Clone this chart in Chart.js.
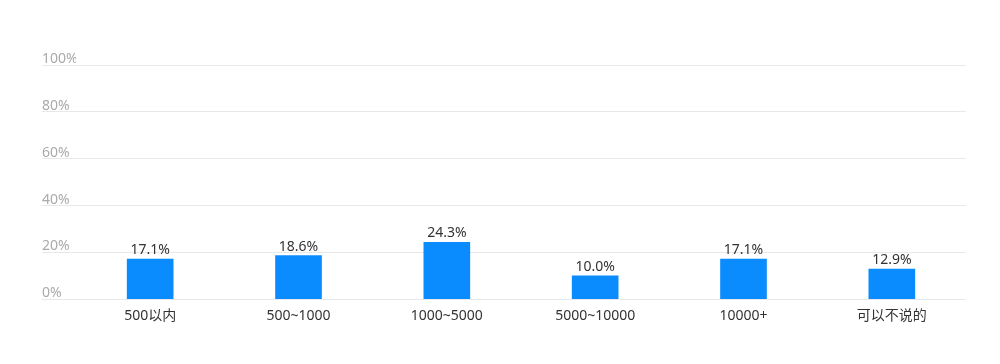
<!DOCTYPE html>
<html>
<head>
<meta charset="utf-8">
<script src="https://cdn.jsdelivr.net/npm/chart.js@4.4.1/dist/chart.umd.min.js"></script>
<style>
  html, body { margin: 0; padding: 0; background: #fff; }
  #wrap { width: 1000px; height: 364px; }
</style>
</head>
<body>
<div id="wrap"><canvas id="c"></canvas></div>
<script>
const categories = ['500以内', '500~1000', '1000~5000', '5000~10000', '10000+', '可以不说的']
const shares = [17.1, 18.6, 24.3, 10.0, 17.1, 12.9]
const yTicks = [0, 20, 40, 60, 80, 100]

const font = "'Noto Sans', 'Noto Sans CJK SC', sans-serif"

// value labels above each bar
const barLabels = {
    id: 'barLabels',
    afterDatasetsDraw(chart) {
        const ctx = chart.ctx
        const meta = chart.getDatasetMeta(0)
        ctx.save()
        ctx.font = '14px ' + font
        ctx.fillStyle = '#333'
        ctx.textAlign = 'center'
        ctx.textBaseline = 'bottom'
        meta.data.forEach((bar, i) => {
            ctx.fillText(shares[i].toFixed(1) + '%', bar.x, bar.y - 2)
        })
        ctx.restore()
    }
}

new Chart(document.getElementById('c').getContext('2d'), {
    type: 'bar',
    data: {
        labels: categories,
        datasets: [{
            data: shares,
            backgroundColor: '#0a8cff',
            borderWidth: 0,
            barThickness: 46
        }]
    },
    plugins: [barLabels],
    options: {
        responsive: true,
        maintainAspectRatio: false,
        animation: false,
        layout: { padding: { left: 42, right: 34, top: 65, bottom: 40 } },
        plugins: { legend: { display: false }, tooltip: { enabled: false } },
        scales: {
            x: {
                grid: { display: false },
                border: { display: false },
                ticks: { color: '#333', font: { family: font, size: 14 }, padding: 0, maxRotation: 0 }
            },
            y: {
                min: 0,
                max: 100,
                afterFit(scale) { scale.width = 34 },
                afterBuildTicks(scale) { scale.ticks = yTicks.map(v => ({ value: v })) },
                grid: { color: '#e8e8ec', tickLength: 34, tickColor: '#e8e8ec' },
                border: { display: false },
                ticks: {
                    crossAlign: 'far',
                    labelOffset: -6,
                    padding: 0,
                    color: '#aaa',
                    font: { family: font, size: 14 },
                    callback: v => v + '%'
                }
            }
        }
    }
})
</script>
</body>
</html>
